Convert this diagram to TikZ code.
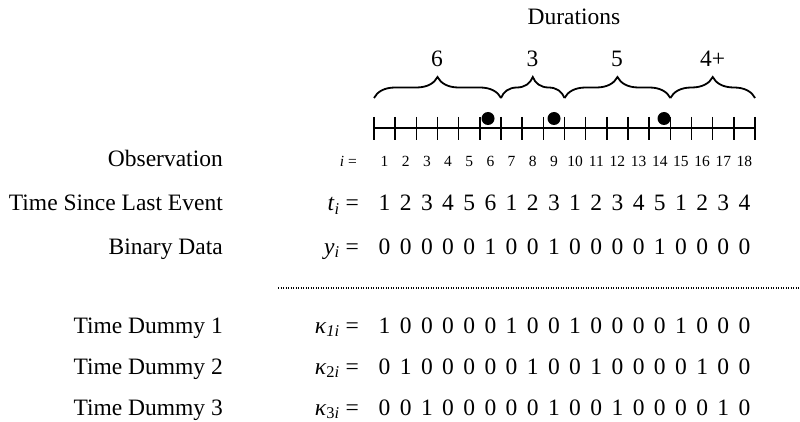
\documentclass[tikz,border=0pt]{standalone}
\usepackage{fontspec}
\setmainfont{Liberation Serif}
\usetikzlibrary{decorations.pathreplacing}
\begin{document}
\begin{tikzpicture}[x=1pt,y=-1pt,
  lab/.style={anchor=base east, inner sep=0pt, font=\fontsize{23.5}{27}\selectfont},
  eqn/.style={anchor=base east, inner sep=0pt, font=\fontsize{23.5}{27}\selectfont},
  seqn/.style={anchor=base east, inner sep=0pt, font=\fontsize{15.5}{18}\selectfont},
  val/.style={anchor=base, inner sep=0pt, font=\fontsize{23.5}{27}\selectfont},
  sval/.style={anchor=base, inner sep=0pt, font=\fontsize{15.5}{18}\selectfont},
  blab/.style={anchor=base, inner sep=0pt, font=\fontsize{23.5}{27}\selectfont},
  axisline/.style={line width=1.8pt},
  tickmark/.style={line width=1.5pt},
  brc/.style={decorate, decoration={brace, amplitude=21pt}, line width=1.8pt},
  evt/.style={circle, fill=black, inner sep=0pt, minimum size=13pt},
  sep/.style={line width=1.1pt, dash pattern=on 0.9pt off 1.6pt}
]
\useasboundingbox (0,0) rectangle (800,422);

% title
\node[blab] (dur) at (574,25) {Durations};

% axis
\foreach \k in {0,...,18} {
  \coordinate (tk\k) at ({374+21.17*\k},128);
  \coordinate (bk\k) at ({374+21.17*\k},98);
}
\draw[axisline] (tk0) -- (tk18);
\foreach \k in {0,...,18} {
  \draw[tickmark] (tk\k) ++(0,-11) -- ++(0,23);
}

% braces
\draw[brc] (bk0) -- (bk6);
\draw[brc] (bk6) -- (bk9);
\draw[brc] (bk9) -- (bk14);
\draw[brc] (bk14) -- (bk18);
\node[blab] (d1) at (437,67) {6};
\node[blab] (d2) at (532.5,67) {3};
\node[blab] (d3) at (617,67) {5};
\node[blab] (d4) at (712.5,67) {4+};

% events
\node[evt] (e1) at (488,118.5) {};
\node[evt] (e2) at (554,118.5) {};
\node[evt] (e3) at (664,118.5) {};

% left labels
\node[lab] (l1) at (223,167) {Observation};
\node[lab] (l2) at (223,211) {Time Since Last Event};
\node[lab] (l3) at (223,254) {Binary Data};
\node[lab] (l4) at (223,333) {Time Dummy 1};
\node[lab] (l5) at (223,374) {Time Dummy 2};
\node[lab] (l6) at (223,415) {Time Dummy 3};

% equation heads
\node[seqn] (q1) at (357,167) {\textit{i} =};
\node[eqn] (q2) at (359,211) {\textit{t}\textsubscript{\textit{i}} =};
\node[eqn] (q3) at (359,254) {\textit{y}\textsubscript{\textit{i}} =};
\node[eqn] (q4) at (359,333) {\textit{κ}\textsubscript{\textit{1i}} =};
\node[eqn] (q5) at (359,374) {\textit{κ}\textsubscript{2\textit{i}} =};
\node[eqn] (q6) at (359,415) {\textit{κ}\textsubscript{3\textit{i}} =};

% values
\foreach \k in {1,...,18} {
  \node[sval] (o\k) at ({374+21.17*(\k-0.5)},167) {\k};
}
\foreach \v [count=\k] in {1,2,3,4,5,6,1,2,3,1,2,3,4,5,1,2,3,4} {
  \node[val] (t\k) at ({374+21.17*(\k-0.5)},211) {\v};
}
\foreach \v [count=\k] in {0,0,0,0,0,1,0,0,1,0,0,0,0,1,0,0,0,0} {
  \node[val] (y\k) at ({374+21.17*(\k-0.5)},254) {\v};
}
\foreach \v [count=\k] in {1,0,0,0,0,0,1,0,0,1,0,0,0,0,1,0,0,0} {
  \node[val] (ka\k) at ({374+21.17*(\k-0.5)},333) {\v};
}
\foreach \v [count=\k] in {0,1,0,0,0,0,0,1,0,0,1,0,0,0,0,1,0,0} {
  \node[val] (kb\k) at ({374+21.17*(\k-0.5)},374) {\v};
}
\foreach \v [count=\k] in {0,0,1,0,0,0,0,0,1,0,0,1,0,0,0,0,1,0} {
  \node[val] (kc\k) at ({374+21.17*(\k-0.5)},415) {\v};
}

% separator
\coordinate (s0) at (278,288);
\coordinate (s1) at (800,288);
\draw[sep] (s0) -- (s1);
\end{tikzpicture}
\end{document}
